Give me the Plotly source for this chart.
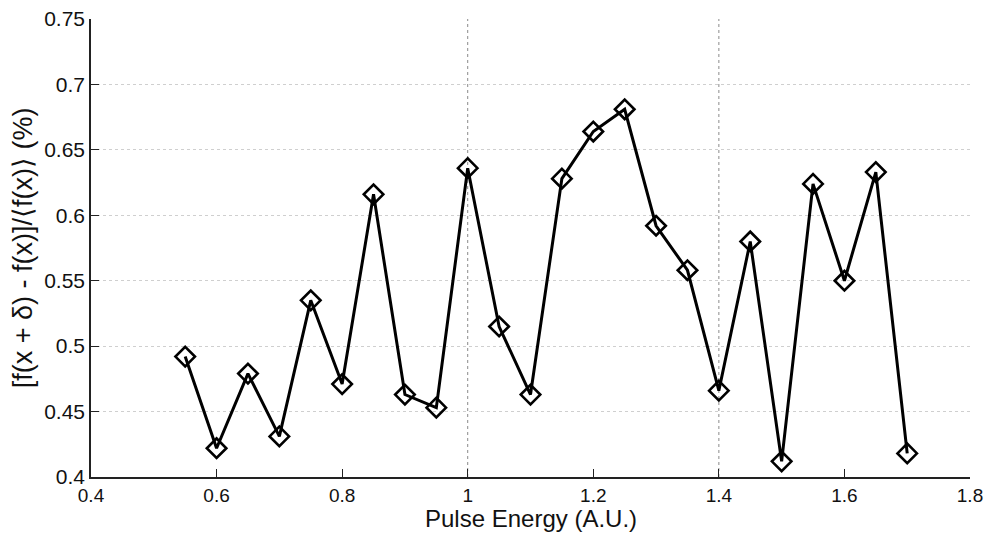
import plotly.graph_objects as go

pulse_energy = [0.55, 0.60, 0.65, 0.70, 0.75, 0.80, 0.85, 0.90, 0.95, 1.00, 1.05, 1.10,
                1.15, 1.20, 1.25, 1.30, 1.35, 1.40, 1.45, 1.50, 1.55, 1.60, 1.65, 1.70]
rel_change = [0.492, 0.422, 0.479, 0.431, 0.535, 0.471, 0.616, 0.463, 0.453, 0.636, 0.515, 0.463,
              0.628, 0.664, 0.681, 0.592, 0.558, 0.466, 0.580, 0.412, 0.624, 0.550, 0.633, 0.418]

x_ticks = [0.4, 0.6, 0.8, 1.0, 1.2, 1.4, 1.6, 1.8]
x_tick_labels = ["0.4", "0.6", "0.8", "1", "1.2", "1.4", "1.6", "1.8"]
y_ticks = [0.4, 0.45, 0.5, 0.55, 0.6, 0.65, 0.7, 0.75]
y_tick_labels = ["0.4", "0.45", "0.5", "0.55", "0.6", "0.65", "0.7", "0.75"]
vertical_grid = [1.0, 1.4]
x_title = "Pulse Energy (A.U.)"
y_title = "[f(x + δ) - f(x)]/⟨f(x)⟩ (%)"

font_family = "Liberation Sans, Arial, sans-serif"

fig = go.Figure()
for xv in vertical_grid:
    fig.add_vline(x=xv, line=dict(color="#8a8a8a", width=1, dash="dot"), layer="below")

fig.add_trace(go.Scatter(
    x=pulse_energy, y=rel_change, mode="lines+markers",
    line=dict(color="black", width=3),
    marker=dict(symbol="diamond-open", size=15, color="black", line=dict(width=2.6, color="black")),
    showlegend=False,
))

fig.update_layout(
    width=987, height=533,
    margin=dict(l=91, r=17, t=19, b=56),
    paper_bgcolor="white", plot_bgcolor="white",
    font=dict(family=font_family, color="#111111"),
)
fig.update_xaxes(
    range=[0.4, 1.8], tickvals=x_ticks, ticktext=x_tick_labels,
    showgrid=False, zeroline=False, automargin=False,
    showline=True, linecolor="#222222", linewidth=1.5,
    ticks="inside", ticklen=8, tickcolor="#222222", tickwidth=1,
    tickfont=dict(size=19, family=font_family, color="#111111"),
)
fig.update_yaxes(
    range=[0.4, 0.75], tickvals=y_ticks, ticktext=y_tick_labels,
    showgrid=True, gridcolor="#cfcfcf", gridwidth=1, griddash="dot", zeroline=False, automargin=False,
    showline=True, linecolor="#222222", linewidth=1.5,
    ticks="inside", ticklen=8, tickcolor="#222222", tickwidth=1,
    tickfont=dict(size=21, family=font_family, color="#111111"),
    title=dict(text=y_title, font=dict(size=27, family=font_family, color="#111111"), standoff=4),
)
fig.add_annotation(
    text=x_title, xref="paper", yref="paper", x=0.5, y=-55.5 / 458,
    xanchor="center", yanchor="bottom", showarrow=False, borderpad=0,
    font=dict(size=24, family=font_family, color="#111111"),
)

fig.write_html("out.html")
